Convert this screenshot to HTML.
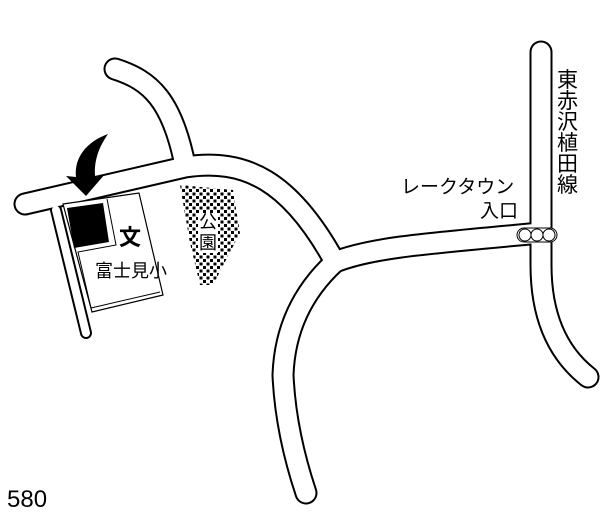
<!DOCTYPE html>
<html><head><meta charset="utf-8"><style>
html,body{margin:0;padding:0;background:#fff;}
svg{display:block;}
text{font-family:"Liberation Sans","Noto Sans CJK JP",sans-serif;fill:#000;}
</style></head><body>
<svg width="615" height="520" viewBox="0 0 615 520" xmlns="http://www.w3.org/2000/svg">
<defs>
<pattern id="dots" width="7" height="7" patternUnits="userSpaceOnUse">
<rect x="0" y="0" width="3" height="3" fill="#000"/><rect x="3.5" y="3.5" width="3" height="3" fill="#000"/>
</pattern>
</defs>
<g fill="none" stroke-linecap="round" stroke-linejoin="round">
<g stroke="#000" stroke-width="23">
<path d="M115,69 C150,80 172,100 185,165"/>
<path d="M25,204 L185,167 C245,158 290,180 335,262"/>
<path d="M335,262 C310,285 285,320 283,375 C285,420 295,460 306,493"/>
<path d="M335,262 C370,248 420,244 541,233"/>
<path d="M541,52 L541,265 C541,320 560,355 588,377"/>
</g>
<path d="M56,210 L86,333" stroke="#000" stroke-width="12"/>
<g stroke="#fff" stroke-width="19">
<path d="M115,69 C150,80 172,100 185,165"/>
<path d="M25,204 L185,167 C245,158 290,180 335,262"/>
<path d="M335,262 C310,285 285,320 283,375 C285,420 295,460 306,493"/>
<path d="M335,262 C370,248 420,244 541,233"/>
<path d="M541,52 L541,265 C541,320 560,355 588,377"/>
</g>
<path d="M56,210 L86,333" stroke="#fff" stroke-width="8"/>
</g>
<!-- school -->
<polygon points="63,204 139,193 163,295 92,312" fill="#fff" stroke="#000" stroke-width="1.2"/>
<polyline points="107,199 116,245 78,252 91,308 160,292 " fill="none" stroke="#000" stroke-width="1"/>
<polygon points="67,208 103,203 109,242 74,248" fill="#000"/>
<text x="119" y="245" font-size="22" font-weight="bold">文</text>
<text x="95" y="277" font-size="18">富士見小</text>
<!-- arrow -->
<path d="M108,134 C86,142 74,158 76,177 L66,176 L86,196 L105,174 L95,176 C94,160 99,147 108,134 Z" fill="#000"/>
<!-- park -->
<polygon points="180,185 233,190 240,233 213,285 200,285 190,243" fill="url(#dots)"/>
<rect x="198" y="213" width="20" height="40" fill="#fff"/>
<text x="199" y="228" font-size="18">公</text>
<text x="199" y="249" font-size="18">園</text>
<!-- signal -->
<rect x="517" y="228" width="40" height="14" rx="7" fill="#fff" stroke="#000" stroke-width="1"/>
<circle cx="525" cy="235" r="6" fill="#fff" stroke="#000" stroke-width="1"/>
<circle cx="537" cy="235" r="6" fill="#fff" stroke="#000" stroke-width="1"/>
<circle cx="549" cy="235" r="6" fill="#fff" stroke="#000" stroke-width="1"/>
<text x="401" y="193" font-size="19">レークタウン</text>
<text x="480" y="217" font-size="19">入口</text>
<g font-size="21">
<text x="557" y="87">東</text>
<text x="557" y="108">赤</text>
<text x="557" y="129">沢</text>
<text x="557" y="150">植</text>
<text x="557" y="171">田</text>
<text x="557" y="192">線</text>
</g>
<text x="7" y="507" font-size="24">580</text>
</svg>
</body></html>
